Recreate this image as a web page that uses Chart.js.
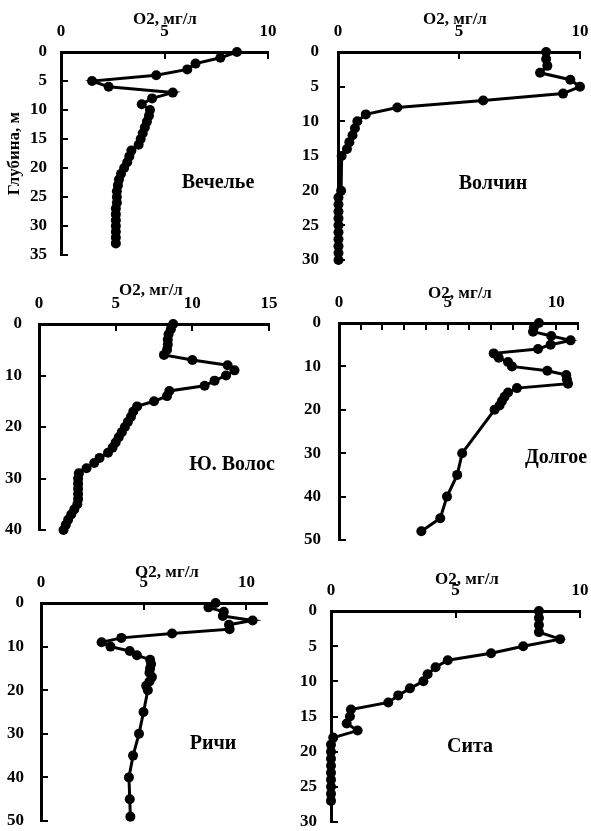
<!DOCTYPE html>
<html>
<head>
<meta charset="utf-8">
<script src="https://cdn.jsdelivr.net/npm/chart.js@4.4.1/dist/chart.umd.min.js"></script>
<style>
  body { margin: 0; background: #fff; }
  #wrap { position: relative; width: 591px; height: 831px; overflow: hidden; background: #fff; }
  #wrap canvas { position: absolute; }
</style>
</head>
<body>
<div id="wrap"></div>
<script>
// ---data: depth (m) and dissolved O2 (mg/l) per lake

// Вечелье
var vechDepth = [0,1,2,3,4,5,6,7,8,9,10,11,12,13,14,15,16,17,18,19,20,21,22,23,24,25,26,27,28,29,30,31,32,33];
var vechO2 = [8.5,7.7,6.5,6.1,4.6,1.5,2.3,5.4,4.4,3.9,4.3,4.25,4.15,4.05,3.95,3.85,3.75,3.4,3.3,3.2,3.05,2.9,2.8,2.75,2.7,2.7,2.7,2.65,2.65,2.65,2.65,2.65,2.65,2.65];

// Волчин
var volchDepth = [0,1,2,3,4,5,6,7,8,9,10,11,12,13,14,15,20,21,22,23,24,25,26,27,28,29,30];
var volchO2 = [8.6,8.6,8.65,8.35,9.6,10.0,9.3,6.0,2.45,1.15,0.8,0.7,0.6,0.47,0.37,0.15,0.13,0.02,0.02,0.02,0.02,0.02,0.02,0.02,0.02,0.02,0.02];

// Ю. Волос
var volosDepth = [0,1,2,3,4,5,6,7,8,9,10,11,12,13,14,15,16,17,18,19,20,21,22,23,24,25,26,27,28,29,30,31,32,33,34,35,36,37,38,39,40];
var volosO2 = [8.75,8.6,8.45,8.4,8.4,8.35,8.15,10.0,12.3,12.75,12.2,11.45,10.8,8.5,8.35,7.5,6.4,6.15,6.0,5.8,5.6,5.4,5.2,5.0,4.8,4.5,3.95,3.6,3.1,2.6,2.55,2.55,2.55,2.55,2.55,2.5,2.3,2.1,1.9,1.75,1.6];

// Долгое
var dolgDepth = [0,1,2,3,4,5,6,7,8,9,10,11,12,13,14,15,16,17,18,19,20,30,35,40,45,48];
var dolgO2 = [9.2,8.97,8.93,9.77,10.66,9.74,9.16,7.12,7.35,7.78,7.96,9.59,10.46,10.49,10.54,8.19,7.78,7.62,7.5,7.39,7.16,5.67,5.44,4.97,4.66,3.79];

// Ричи
var richDepth = [0,1,2,3,4,5,6,7,8,9,10,11,12,13,14,15,16,17,18,19,20,25,30,35,40,45,49];
var richO2 = [8.5,8.15,8.9,8.85,10.3,9.15,9.18,6.38,3.91,2.95,3.38,4.32,4.67,5.31,5.36,5.31,5.28,5.4,5.28,5.12,5.2,4.99,4.77,4.48,4.28,4.32,4.35];

// Сита
var sitaDepth = [0,1,2,3,4,5,6,7,8,9,10,11,12,13,14,15,16,17,18,19,20,21,22,23,24,25,26,27];
var sitaO2 = [8.35,8.35,8.35,8.35,9.2,7.72,6.43,4.69,4.2,3.88,3.71,3.17,2.7,2.3,0.8,0.76,0.63,1.07,0.09,0,0,0,0,0,0,0,0,0];

var xTitle = 'O2, мг/л';
var yTitle = 'Глубина, м';

//---panels
var serif = "'Times New Roman', 'Liberation Serif', serif";

var panels = [
  { name: 'Вечелье', depth: vechDepth, o2: vechO2, xMax: 10, xStep: 5, yMax: 35, yStep: 5,
    left: 0, top: 0, yW: 61, xH: 52, w: 207, h: 203, padR: 14, padB: 12, yPad: 21,
    titleAt: [104, -32], nameAt: [157, 131], showYTitle: true },
  { name: 'Волчин', depth: volchDepth, o2: volchO2, xMax: 10, xStep: 5, yMax: 30, yStep: 5,
    left: 294, top: 0, yW: 44, xH: 52, w: 242, h: 208, padR: 11, padB: 12, yPad: 26,
    titleAt: [117, -32], nameAt: [155, 132] },
  { name: 'Ю. Волос', depth: volosDepth, o2: volosO2, xMax: 15, xStep: 5, yMax: 40, yStep: 10,
    left: 0, top: 272, yW: 39, xH: 52, w: 230, h: 206, padR: 20, padB: 12, yPad: 24,
    titleAt: [112, -33], nameAt: [193, 141] },
  { name: 'Долгое', depth: dolgDepth, o2: dolgO2, xMax: 11, xStep: 1, yMax: 50, yStep: 10,
    left: 294, top: 271, yW: 45, xH: 52, w: 239, h: 217, padR: 13, padB: 12, yPad: 25,
    titleAt: [121, -29], nameAt: [217, 135], labelEvery: 5 },
  { name: 'Ричи', depth: richDepth, o2: richO2, xMax: 11, xStep: 5, yMax: 50, yStep: 10,
    left: 0, top: 551, yW: 41, xH: 52, w: 226, h: 218, padR: 14, padB: 10, yPad: 24,
    titleAt: [126, -30], nameAt: [172, 141] },
  { name: 'Сита', depth: sitaDepth, o2: sitaO2, xMax: 10, xStep: 5, yMax: 30, yStep: 5,
    left: 294, top: 559, yW: 37, xH: 52, w: 249, h: 211, padR: 11, padB: 9, yPad: 21,
    titleAt: [136, -31], nameAt: [139, 136] }
];

// axis title on top and lake name inside the plot
var panelText = {
  id: 'panelText',
  afterDraw: function (chart, args, opts) {
    var ctx = chart.ctx, a = chart.chartArea;
    ctx.save();
    ctx.fillStyle = '#000';
    ctx.textAlign = 'center';
    ctx.textBaseline = 'middle';
    ctx.font = 'bold 17px ' + serif;
    ctx.fillText(xTitle, a.left + opts.titleAt[0], a.top + opts.titleAt[1]);
    ctx.font = 'bold 20px ' + serif;
    ctx.fillText(opts.name, a.left + opts.nameAt[0], a.top + opts.nameAt[1]);
    ctx.restore();
  }
};

var wrap = document.getElementById('wrap');

panels.forEach(function (p) {
  var cv = document.createElement('canvas');
  var cw = p.yW + p.w + p.padR;
  var ch = p.xH + p.h + p.padB;
  cv.width = cw; cv.height = ch;
  cv.style.left = p.left + 'px';
  cv.style.top = p.top + 'px';
  cv.style.width = cw + 'px';
  cv.style.height = ch + 'px';
  wrap.appendChild(cv);

  var pts = p.depth.map(function (d, i) { return { x: p.o2[i], y: d }; });

  new Chart(cv, {
    type: 'scatter',
    data: {
      datasets: [{
        data: pts,
        showLine: true,
        borderColor: '#000',
        borderWidth: 3,
        backgroundColor: '#000',
        pointBackgroundColor: '#000',
        pointBorderColor: '#000',
        pointRadius: 5,
        pointBorderWidth: 0,
        clip: false
      }]
    },
    options: {
      responsive: false,
      animation: false,
      devicePixelRatio: 1,
      layout: { autoPadding: false, padding: { left: 0, top: 0, right: p.padR, bottom: p.padB } },
      plugins: {
        legend: { display: false },
        tooltip: { enabled: false },
        panelText: { name: p.name, titleAt: p.titleAt, nameAt: p.nameAt }
      },
      scales: {
        x: {
          type: 'linear',
          position: 'top',
          min: 0, max: p.xMax,
          // fixed box, no extra edge padding from label overflow
          afterFit: function (s) { s.height = p.xH; s.paddingLeft = 0; s.paddingRight = 0; },
          border: { display: true, color: '#000', width: 3 },
          grid: { drawOnChartArea: false, drawTicks: true, tickLength: -7, color: '#000', lineWidth: 2 },
          ticks: {
            stepSize: p.xStep,
            includeBounds: false,
            padding: 17,
            maxRotation: 0,
            color: '#000',
            font: { family: serif, size: 17, weight: 'bold' },
            callback: function (v) {
              if (p.labelEvery) return v % p.labelEvery === 0 ? v : '';
              return v;
            }
          }
        },
        y: {
          type: 'linear',
          position: 'left',
          reverse: true,
          min: 0, max: p.yMax,
          afterFit: function (s) { s.width = p.yW; s.paddingTop = 0; s.paddingBottom = 0; },
          border: { display: true, color: '#000', width: 3 },
          grid: { drawOnChartArea: false, drawTicks: true, tickLength: -7, color: '#000', lineWidth: 2 },
          title: {
            display: !!p.showYTitle,
            text: yTitle,
            color: '#000',
            font: { family: serif, size: 17, weight: 'bold' },
            padding: { top: 4, bottom: 0 }
          },
          ticks: {
            stepSize: p.yStep,
            padding: p.yPad,
            color: '#000',
            font: { family: serif, size: 17, weight: 'bold' }
          }
        }
      }
    },
    plugins: [panelText]
  });
});
</script>
</body>
</html>
